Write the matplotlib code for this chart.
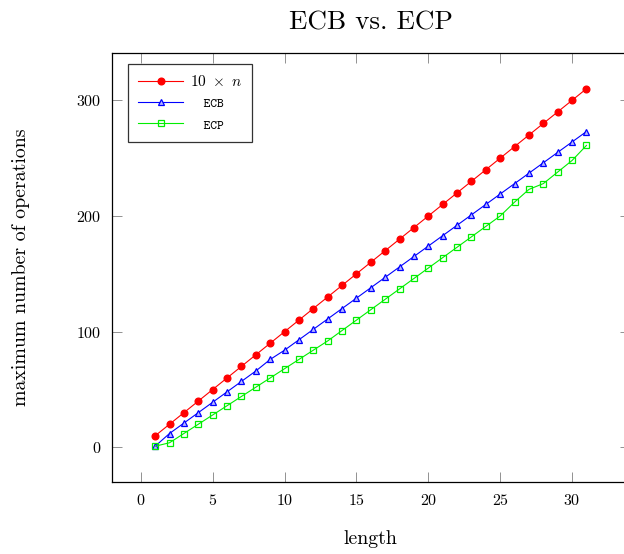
import matplotlib
matplotlib.use('Agg')
from matplotlib import pyplot as plt

plt.rcParams['font.family'] = 'cmr10'
plt.rcParams['mathtext.fontset'] = 'cm'
plt.rcParams['axes.formatter.use_mathtext'] = True

# Data
length = list(range(1, 32))
ten_n = [10 * n for n in length]
ecb = [1, 12, 21, 30, 39, 48, 57, 66, 76, 84, 93, 102, 111, 120, 129, 138,
       147, 156, 165, 174, 183, 192, 201, 210, 219, 228, 237, 246, 255, 264, 273]
ecp = [1, 4, 12, 20, 28, 36, 44, 52, 60, 68, 76, 84, 92, 101, 110, 119,
       128, 137, 146, 155, 164, 173, 182, 191, 200, 212, 223, 228, 238, 248, 261]

xticks = [0, 5, 10, 15, 20, 25, 30]
yticks = [0, 100, 200, 300]

fig = plt.figure(figsize=(6.24, 5.54), dpi=100)
ax = fig.add_axes([0.1795, 0.13, 0.8295, 0.7744])

ax.plot(length, ten_n, color='red', lw=0.8, marker='o', ms=4.8,
        mfc='red', mec='red', label=r'$10\ \times\ n$')
ax.plot(length, ecb, color='blue', lw=0.8, marker='^', ms=4.5,
        mfc='#b8b8ff', mec='blue', mew=0.9, label='  ECB')
ax.plot(length, ecp, color='#00ee00', lw=0.8, marker='s', ms=4.5,
        mfc='none', mec='#00ee00', mew=0.9, label='  ECP')

ax.set_xlim(-2, 34)
ax.set_ylim(-29.9, 340.9)
ax.set_xticks(xticks)
ax.set_yticks(yticks)
ax.tick_params(direction='in', length=7, width=0.6, color='0.5',
               top=True, right=True, labelsize=11.5, pad=8)
for s in ax.spines.values():
    s.set_linewidth(0.9)

ax.set_title('ECB vs. ECP', fontsize=19.5, pad=17)
ax.set_xlabel('length', fontsize=14.3, labelpad=16)
ax.set_ylabel('maximum number of operations', fontsize=14.3, labelpad=33)

leg = ax.legend(loc='upper left', bbox_to_anchor=(0.031, 0.974), fontsize=11,
                frameon=True, fancybox=False, edgecolor='black',
                handlelength=2.95, borderpad=0.65, labelspacing=0.5,
                handletextpad=0.45, borderaxespad=0)
leg.get_frame().set_linewidth(0.9)
for t in leg.get_texts()[1:]:
    t.set_fontfamily('cmtt10')
    t.set_fontsize(9.3)

fig.savefig('out.png', dpi=100)
